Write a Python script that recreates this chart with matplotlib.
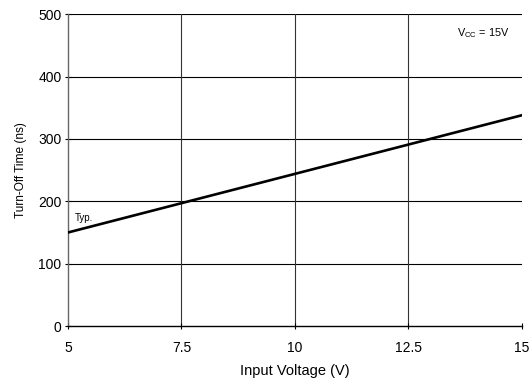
import matplotlib
matplotlib.use("Agg")
import matplotlib.pyplot as plt

plt.rcParams['font.family'] = ['Liberation Sans', 'DejaVu Sans']

input_voltage = [5, 15]
turn_off_time = [150, 338]
x_ticks = [5, 7.5, 10, 12.5, 15]
x_tick_labels = ["5", "7.5", "10", "12.5", "15"]
y_ticks = [0, 100, 200, 300, 400, 500]

fig = plt.figure(figsize=(5.3, 3.81), dpi=100)
ax = fig.add_axes([0.128, 0.144, 0.857, 0.819])

ax.set_xlim(5, 15)
ax.set_ylim(0, 500)
ax.set_xticks(x_ticks)
ax.set_xticklabels(x_tick_labels)
ax.set_yticks(y_ticks)

for y in y_ticks[1:]:
    ax.axhline(y, color='black', lw=0.8, zorder=1)
for x in x_ticks[1:-1]:
    ax.axvline(x, color='#333333', lw=0.8, zorder=1)

ax.plot(input_voltage, turn_off_time, color='black', lw=1.9, zorder=3)

for s in ['top', 'right']:
    ax.spines[s].set_visible(False)
ax.spines['left'].set_color('#666666')
ax.spines['left'].set_linewidth(1.0)
ax.spines['bottom'].set_color('black')
ax.spines['bottom'].set_linewidth(1.0)

ax.tick_params(axis='both', direction='inout', length=5, width=0.8, labelsize=10, colors='black')
ax.tick_params(axis='x', pad=8)
ax.tick_params(axis='y', pad=2)

ax.set_xlabel("Input Voltage (V)", fontsize=10.5, labelpad=7)
ax.set_ylabel("Turn-Off Time (ns)", fontsize=8.6, labelpad=8)

ax.text(5.15, 165, "Typ.", fontsize=7, va='bottom', ha='left')
ax.text(14.72, 470, r"V$_\mathregular{CC}$ = 15V", fontsize=7.8, ha='right', va='center')

fig.savefig("out.png", dpi=100)
